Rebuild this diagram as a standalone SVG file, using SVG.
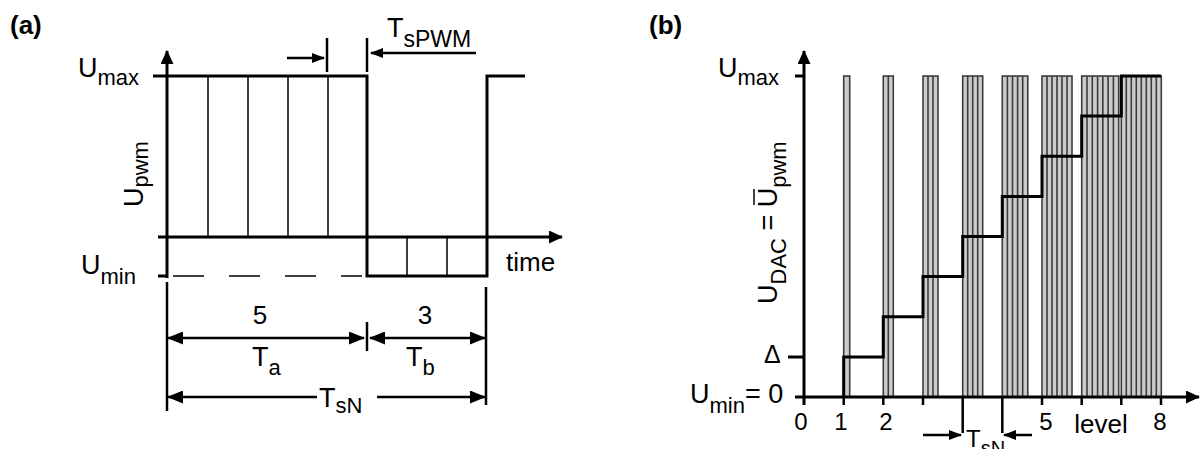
<svg xmlns="http://www.w3.org/2000/svg" width="1201" height="449" viewBox="0 0 1201 449">
<defs>
<style>
.t{font-family:"Liberation Sans",Arial,sans-serif;fill:#000}
.L{font-size:27px}
.s{font-size:22px}
.m{font-size:24px}
.hd{font-size:26px;font-weight:bold}
.thick{stroke:#000;stroke-width:3;fill:none}
.thin{stroke:#000;stroke-width:1.5;fill:none}
.dim{stroke:#000;stroke-width:2.5;fill:none}
.bar{fill:#cbcbcb;stroke:#3c3c3c;stroke-width:1.6}
.bl{stroke:#3c3c3c;stroke-width:1.6}
</style>
<marker id="ah" markerUnits="userSpaceOnUse" markerWidth="16" markerHeight="13" refX="15" refY="6.5" orient="auto-start-reverse"><path d="M0,0 L16,6.5 L0,13 z" fill="#000"/></marker>
<marker id="ax" markerUnits="userSpaceOnUse" markerWidth="14" markerHeight="13" refX="13" refY="6.5" orient="auto"><path d="M0,0 L14,6.5 L0,13 z" fill="#000"/></marker>
<marker id="sm" markerUnits="userSpaceOnUse" markerWidth="13" markerHeight="10" refX="12" refY="5" orient="auto"><path d="M0,0 L13,5 L0,10 z" fill="#000"/></marker>
</defs>
<rect width="1201" height="449" fill="#fff"/>

<g id="panel-a">
  <text class="t hd" x="10" y="34">(a)</text>
  <g id="a-axes">
    <line class="thick" x1="167" y1="278" x2="167" y2="51" marker-end="url(#ax)"/>
    <line class="thick" x1="158" y1="237" x2="562" y2="237" marker-end="url(#ax)"/>
    <line class="thick" x1="158" y1="276" x2="167" y2="276"/>
  </g>
  <g id="a-waveform">
    <path class="thick" d="M153,76 H367 V276 H487 V76 H525"/>
    <path class="thin" d="M208,76 V237 M248,76 V237 M288,76 V237 M328,76 V237 M407,237 V276 M447,237 V276"/>
    <line class="thin" x1="173" y1="276" x2="362" y2="276" stroke-dasharray="31 25"/>
  </g>
  <g id="a-labels">
    <text class="t" x="78" y="77"><tspan class="L">U</tspan><tspan class="s" dy="8">max</tspan></text>
    <text class="t" x="81" y="274"><tspan class="L">U</tspan><tspan class="s" dy="10">min</tspan></text>
    <text class="t" transform="translate(143,207) rotate(-90)"><tspan class="L">U</tspan><tspan class="s" dy="5">pwm</tspan></text>
    <text class="t" x="506" y="271" font-size="26">time</text>
  </g>
  <g id="a-tspwm">
    <line class="dim" x1="327" y1="38" x2="327" y2="72"/>
    <line class="dim" x1="367" y1="38" x2="367" y2="72"/>
    <line class="dim" x1="287" y1="58" x2="324" y2="58" marker-end="url(#sm)"/>
    <line class="dim" x1="476" y1="53" x2="371" y2="53" marker-end="url(#sm)"/>
    <text class="t" x="387" y="37"><tspan class="L">T</tspan><tspan font-size="23" dy="10">sPWM</tspan></text>
  </g>
  <g id="a-dimensions">
    <line class="dim" x1="167" y1="282" x2="167" y2="411"/>
    <line class="dim" x1="486" y1="287" x2="486" y2="405"/>
    <line class="dim" x1="367" y1="322" x2="367" y2="351"/>
    <line class="dim" x1="168" y1="338" x2="364" y2="338" marker-start="url(#ah)" marker-end="url(#ah)"/>
    <line class="dim" x1="370" y1="338" x2="485" y2="338" marker-start="url(#ah)" marker-end="url(#ah)"/>
    <line class="dim" x1="168" y1="397" x2="317" y2="397" marker-start="url(#ah)"/>
    <line class="dim" x1="377" y1="397" x2="485" y2="397" marker-end="url(#ah)"/>
    <text class="t" x="260" y="324" font-size="26" text-anchor="middle">5</text>
    <text class="t" x="425" y="324" font-size="26" text-anchor="middle">3</text>
    <text class="t" x="252" y="366"><tspan class="L">T</tspan><tspan class="s" dy="9">a</tspan></text>
    <text class="t" x="406" y="366"><tspan class="L">T</tspan><tspan class="s" dy="9">b</tspan></text>
    <text class="t" x="319" y="407"><tspan class="L">T</tspan><tspan class="s" dy="6">sN</tspan></text>
  </g>
</g>

<g id="panel-b">
  <text class="t hd" x="649" y="34">(b)</text>
  <g id="b-bars">
    <rect class="bar" x="843.7" y="76" width="6" height="321"/>
    <rect class="bar" x="883.3" y="76" width="10" height="321"/>
    <path class="bl" d="M888.3,76 V397"/>
    <rect class="bar" x="923" y="76" width="15" height="321"/>
    <path class="bl" d="M928,76 V397 M933,76 V397"/>
    <rect class="bar" x="962.7" y="76" width="20" height="321"/>
    <path class="bl" d="M967.7,76 V397 M972.7,76 V397 M977.7,76 V397"/>
    <rect class="bar" x="1002.3" y="76" width="25.5" height="321"/>
    <path class="bl" d="M1007.4,76 V397 M1012.5,76 V397 M1017.6,76 V397 M1022.7,76 V397"/>
    <rect class="bar" x="1042" y="76" width="30" height="321"/>
    <path class="bl" d="M1047,76 V397 M1052,76 V397 M1057,76 V397 M1062,76 V397 M1067,76 V397"/>
    <rect class="bar" x="1081.7" y="76" width="37" height="321"/>
    <path class="bl" d="M1087,76 V397 M1092.3,76 V397 M1097.6,76 V397 M1102.8,76 V397 M1108.1,76 V397 M1113.4,76 V397"/>
    <rect class="bar" x="1121.3" y="76" width="40" height="321"/>
    <path class="bl" d="M1126.3,76 V397 M1131.3,76 V397 M1136.3,76 V397 M1141.3,76 V397 M1146.3,76 V397 M1151.3,76 V397 M1156.3,76 V397"/>
  </g>
  <g id="b-staircase">
    <path class="thick" d="M843.7,397 V356.9 H883.3 V316.75 H923 V276.6 H962.7 V236.5 H1002.3 V196.4 H1042 V156.25 H1081.7 V116.1 H1121.3 V76 H1161"/>
  </g>
  <g id="b-axes">
    <line class="thick" x1="804" y1="405" x2="804" y2="51" marker-end="url(#ax)"/>
    <line class="thick" x1="795" y1="397" x2="1199" y2="397" marker-end="url(#ax)"/>
    <line class="thick" x1="795" y1="76" x2="804" y2="76"/>
    <line class="thick" x1="788" y1="357" x2="804" y2="357"/>
    <path class="dim" d="M843.7,397 V405 M883.3,397 V405 M923,397 V405 M962.7,397 V433 M1002.3,397 V433 M1042,397 V405 M1081.7,397 V405 M1121.3,397 V405 M1161,397 V405"/>
  </g>
  <g id="b-tsn">
    <line class="dim" x1="923" y1="435" x2="961" y2="435" marker-end="url(#sm)"/>
    <line class="dim" x1="1032" y1="435" x2="1004" y2="435" marker-end="url(#sm)"/>
    <text class="t" x="966" y="447"><tspan class="m">T</tspan><tspan font-size="20" dy="8">sN</tspan></text>
  </g>
  <g id="b-labels">
    <text class="t" x="718" y="77"><tspan class="L">U</tspan><tspan class="s" dy="8">max</tspan></text>
    <text class="t" x="764" y="363" font-size="25">Δ</text>
    <text class="t" x="690" y="403"><tspan class="L">U</tspan><tspan class="s" dy="10">min</tspan><tspan class="L" dy="-10">= 0</tspan></text>
    <g transform="translate(777,304) rotate(-90)">
      <text class="t"><tspan class="L">U</tspan><tspan class="s" dy="9">DAC</tspan><tspan class="L" dy="-9"> = U</tspan><tspan class="s" dy="9">pwm</tspan></text>
      <line x1="99" y1="-23" x2="115" y2="-23" stroke="#000" stroke-width="1.5"/>
    </g>
    <text class="t m" x="801" y="430" text-anchor="middle">0</text>
    <text class="t m" x="841" y="430" text-anchor="middle">1</text>
    <text class="t m" x="886" y="430" text-anchor="middle">2</text>
    <text class="t m" x="1046" y="430" text-anchor="middle">5</text>
    <text class="t" x="1101" y="433" font-size="26" text-anchor="middle">level</text>
    <text class="t m" x="1160" y="430" text-anchor="middle">8</text>
  </g>
</g>
</svg>
